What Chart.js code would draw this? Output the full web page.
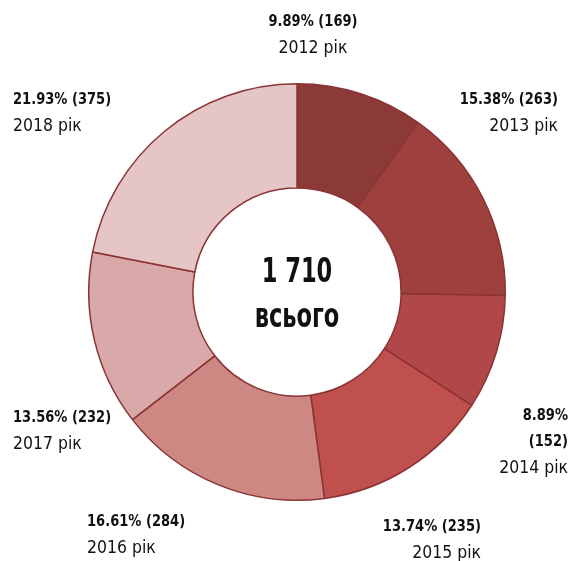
<!DOCTYPE html>
<html>
<head>
<meta charset="utf-8">
<script src="https://cdn.jsdelivr.net/npm/chart.js@4/dist/chart.umd.min.js"></script>
<style>
html,body{margin:0;padding:0;background:#fff;}
#wrap{width:571px;height:561px;position:relative;}
</style>
</head>
<body>
<div id="wrap"><canvas id="c" width="571" height="561"></canvas></div>
<script>
const years = ["2012 рік","2013 рік","2014 рік","2015 рік","2016 рік","2017 рік","2018 рік"];
const counts = [169, 263, 152, 235, 284, 232, 375];
const percents = ["9.89%","15.38%","8.89%","13.74%","16.61%","13.56%","21.93%"];
const colors = ["#8B3A38","#9E403E","#B0484A","#C0504D","#CD8884","#D9A9A9","#E5C5C6"];
const totalLabel = "1 710";
const totalCaption = "всього";

const FONT = "'DejaVu Sans Condensed','DejaVu Sans',sans-serif";

// label layout: anchor x, first line y, alignment, whether the bold line is split
const labelLayout = [
  {x: 313, y: 22, align: "center", split: false},
  {x: 558, y: 100, align: "right", split: false},
  {x: 568, y: 416, align: "right", split: true},
  {x: 481, y: 527, align: "right", split: false},
  {x: 87,  y: 522, align: "left", split: false},
  {x: 13,  y: 418, align: "left", split: false},
  {x: 13,  y: 100, align: "left", split: false}
];

function drawText(ctx, text, x, y, align, font, sx) {
  ctx.save();
  ctx.font = font;
  ctx.textAlign = align;
  ctx.translate(x, y);
  ctx.scale(sx, 1);
  ctx.fillText(text, 0, 0);
  ctx.restore();
}

const labelsPlugin = {
  id: "outerLabels",
  afterDraw(chart) {
    const ctx = chart.ctx;
    const meta = chart.getDatasetMeta(0);
    const arc0 = meta.data[0];
    ctx.save();
    ctx.fillStyle = "#111";
    ctx.textBaseline = "middle";
    drawText(ctx, totalLabel, arc0.x, arc0.y - 19, "center", "bold 33px " + FONT, 0.76);
    drawText(ctx, totalCaption, arc0.x, arc0.y + 26, "center", "bold 33px " + FONT, 0.76);
    const bf = "bold 16.5px " + FONT;
    const rf = "18px " + FONT;
    const bs = 0.88;
    labelLayout.forEach((L, i) => {
      let y = L.y;
      if (L.split) {
        drawText(ctx, percents[i], L.x, y, L.align, bf, bs); y += 26;
        drawText(ctx, "(" + counts[i] + ")", L.x, y, L.align, bf, bs); y += 26;
      } else {
        drawText(ctx, percents[i] + " (" + counts[i] + ")", L.x, y, L.align, bf, bs); y += 26;
      }
      drawText(ctx, years[i], L.x, y, L.align, rf, 0.97);
    });
    ctx.restore();
  }
};

new Chart(document.getElementById("c"), {
  type: "doughnut",
  data: {
    labels: years,
    datasets: [{
      data: counts,
      backgroundColor: colors,
      borderColor: "#8B3333",
      borderWidth: 1.5
    }]
  },
  options: {
    responsive: false,
    animation: false,
    cutout: "50%",
    layout: {padding: {left: 88, top: 83, right: 65, bottom: 60}},
    plugins: {legend: {display: false}, tooltip: {enabled: false}}
  },
  plugins: [labelsPlugin]
});
</script>
</body>
</html>
